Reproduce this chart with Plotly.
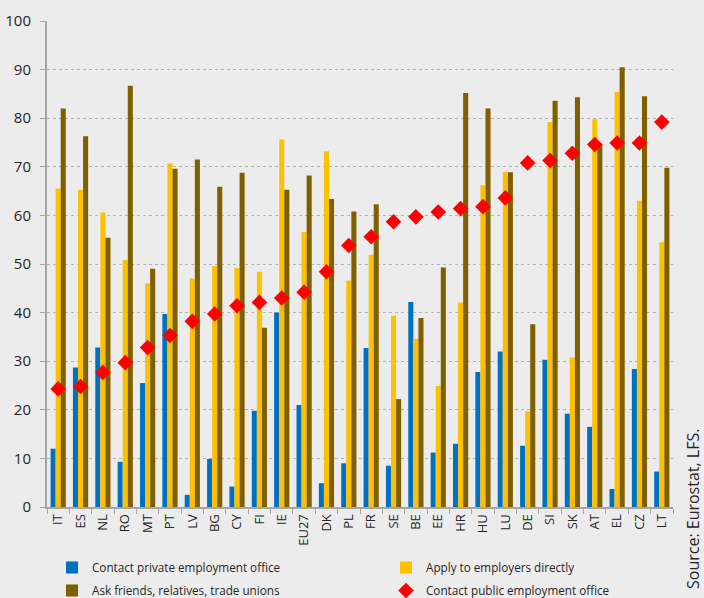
import plotly.graph_objects as go

countries = ["IT", "ES", "NL", "RO", "MT", "PT", "LV", "BG", "CY", "FI", "IE", "EU27", "DK", "PL",
             "FR", "SE", "BE", "EE", "HR", "HU", "LU", "DE", "SI", "SK", "AT", "EL", "CZ", "LT"]

private_office = [12.0, 28.7, 32.8, 9.3, 25.5, 39.7, 2.5, 9.9, 4.2, 19.8, 40.0, 21.0, 4.9, 9.0,
                  32.7, 8.5, 42.2, 11.2, 13.0, 27.8, 32.0, 12.6, 30.3, 19.2, 16.5, 3.7, 28.4, 7.3]
apply_directly = [65.5, 65.3, 60.6, 50.8, 46.0, 70.7, 47.0, 49.6, 49.2, 48.4, 75.6, 56.6, 73.2, 46.6,
                  51.9, 39.3, 34.6, 24.9, 42.1, 66.2, 69.0, 19.7, 79.2, 30.8, 79.8, 85.4, 63.0, 54.5]
ask_friends = [82.0, 76.3, 55.4, 86.7, 49.0, 69.6, 71.5, 65.9, 68.8, 36.9, 65.3, 68.2, 63.4, 60.8,
               62.3, 22.2, 38.9, 49.3, 85.2, 82.0, 68.9, 37.6, 83.6, 84.3, 74.8, 90.5, 84.5, 69.8]
public_office = [24.3, 24.8, 27.7, 29.7, 32.8, 35.3, 38.2, 39.7, 41.4, 42.1, 43.0, 44.2, 48.4, 53.8,
                 55.6, 58.7, 59.7, 60.7, 61.4, 61.8, 63.6, 70.8, 71.3, 72.8, 74.6, 74.9, 74.9, 79.2]

y_ticks = [0, 10, 20, 30, 40, 50, 60, 70, 80, 90, 100]

BG = "#ECECEC"
W, H = 704, 598
ML, MR, MT, MB = 47, 31, 21, 91
PW, PH = W - ML - MR, H - MT - MB
legend_font = dict(family="Liberation Sans Narrow, Open Sans, sans-serif", size=11.7, color="#262626")

fig = go.Figure()
fig.add_trace(go.Bar(x=countries, y=private_office, name="Contact private employment office",
                     marker=dict(color="#0070C0", line=dict(width=0)), legend="legend"))
fig.add_trace(go.Bar(x=countries, y=apply_directly, name="Apply to employers directly",
                     marker=dict(color="#FFC000", line=dict(width=0)), legend="legend2"))
fig.add_trace(go.Bar(x=countries, y=ask_friends, name="Ask friends, relatives, trade unions",
                     marker=dict(color="#7F6000", line=dict(width=0)), legend="legend3"))
fig.add_trace(go.Scatter(x=countries, y=public_office, name="Contact public employment office",
                         mode="markers", legend="legend4",
                         marker=dict(symbol="diamond", size=12, color="#FF0000")))

leg_common = dict(orientation="h", xref="container", yref="container", xanchor="left", yanchor="top",
                  font=legend_font, bgcolor="rgba(0,0,0,0)", itemwidth=30)
col1, col2 = 52, 386
row1, row2 = 553, 576

fig.update_layout(
    width=W, height=H,
    paper_bgcolor=BG, plot_bgcolor=BG,
    margin=dict(l=ML, r=MR, t=MT, b=MB, autoexpand=False),
    barmode="group", bargap=0.32, bargroupgap=0,
    font=dict(family="Open Sans, DejaVu Sans, sans-serif", color="#262626"),
    showlegend=True,
    legend=dict(x=col1 / W, y=(H - row1) / H, **leg_common),
    legend2=dict(x=col2 / W, y=(H - row1) / H, **leg_common),
    legend3=dict(x=col1 / W, y=(H - row2) / H, **leg_common),
    legend4=dict(x=col2 / W, y=(H - row2) / H, **leg_common),
    annotations=[dict(text="Source: Eurostat, LFS.", textangle=-90, showarrow=False,
                      xref="paper", yref="paper", x=(693 - ML) / PW, y=(H - MB - 427) / PH,
                      xanchor="center", yanchor="top",
                      font=dict(family="Open Sans, DejaVu Sans, sans-serif", size=16, color="#262626"))],
)

fig.update_xaxes(
    type="category", range=[-0.5, len(countries) - 0.5], autorange=False,
    showline=True, linecolor="#A6A6A6", linewidth=2,
    ticks="outside", tickson="boundaries", ticklen=5, tickcolor="#A6A6A6", tickwidth=1,
    tickangle=-90, tickfont=dict(size=13, color="#262626"), showgrid=False,
)
fig.update_yaxes(
    range=[0, 100], tickvals=y_ticks, showline=True, linecolor="#A6A6A6", linewidth=2,
    ticks="outside", ticklen=5, tickcolor="#A6A6A6", ticklabelstandoff=6,
    showgrid=True, gridcolor="#B4B4B4", gridwidth=1, griddash="dot",
    tickfont=dict(size=15, color="#262626"), zeroline=False,
)

fig.write_html(
    "out.html",
    config={"displayModeBar": False},
    post_script="document.body.style.margin='0';document.body.style.overflow='hidden';"
                "document.body.style.background='" + BG + "';",
)
